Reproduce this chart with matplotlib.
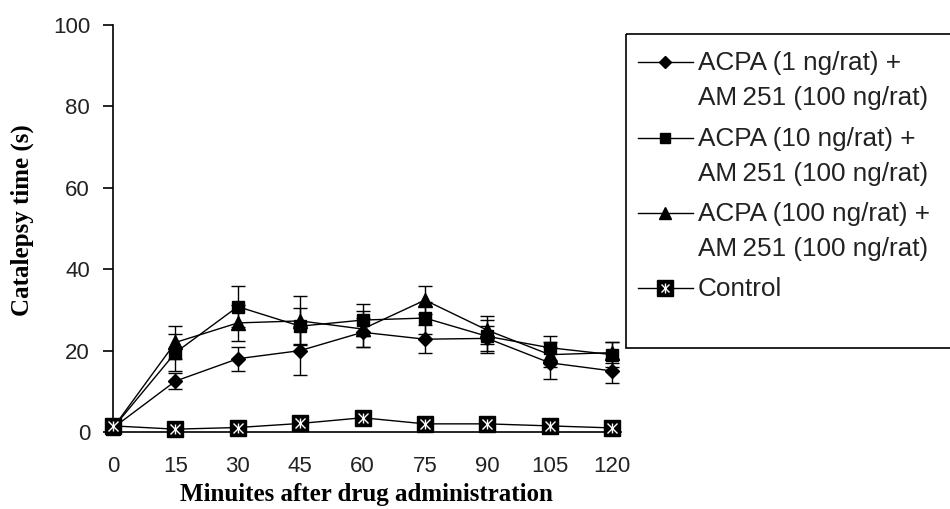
import matplotlib
matplotlib.use("Agg")
import matplotlib.pyplot as plt
from matplotlib.patches import Rectangle

# Time points (minutes after drug administration)
minutes = [0, 15, 30, 45, 60, 75, 90, 105, 120]

# Catalepsy time (s), mean and error per group
acpa1 = [1, 12.5, 18, 20, 24.5, 22.8, 23, 17, 15]
acpa1_err = [0, 2, 3, 6, 3.5, 3.5, 3, 4, 3]
acpa10 = [1, 19.5, 30.8, 26, 27.5, 28, 23.5, 20.7, 19]
acpa10_err = [0, 4.5, 5, 4.5, 4, 4, 4, 3, 3]
acpa100 = [1, 22, 26.8, 27.3, 25.3, 32.4, 25, 19, 19.5]
acpa100_err = [0, 4, 4.5, 6, 4.5, 3.5, 3.5, 3, 2.5]
control = [1.5, 0.7, 1.1, 2.1, 3.5, 2, 2, 1.5, 1]

labels = [
    "ACPA (1 ng/rat) +\nAM\u2009251 (100 ng/rat)",
    "ACPA (10 ng/rat) +\nAM\u2009251 (100 ng/rat)",
    "ACPA (100 ng/rat) +\nAM\u2009251 (100 ng/rat)",
    "Control",
]
yticks = [0, 20, 40, 60, 80, 100]

SANS = ["Liberation Sans", "DejaVu Sans"]
SERIF = ["Liberation Serif", "DejaVu Serif"]

W, H = 950, 509
fig = plt.figure(figsize=(W / 100, H / 100), dpi=100)

left, right, bottom, top = 113, 620.5, 432, 25
ax = fig.add_axes([left / W, 1 - bottom / H, (right - left) / W, (bottom - top) / H])

series = [
    (acpa1, acpa1_err, "D", 7.0),
    (acpa10, acpa10_err, "s", 9.0),
    (acpa100, acpa100_err, "^", 9.5),
]
for vals, errs, mk, ms in series:
    ax.errorbar(minutes, vals, yerr=errs, fmt="-" + mk, color="black", ms=ms,
                lw=1.0, elinewidth=1.0, capsize=5, capthick=1.0, clip_on=False,
                zorder=3)

# Control: black squares with a white asterisk
ax.plot(minutes, control, "-s", color="black", ms=12, lw=1.0, clip_on=False, zorder=4)
ax.plot(minutes, control, linestyle="none", marker="x", color="white", ms=6.5,
        mew=1.0, clip_on=False, zorder=5)
ax.plot(minutes, control, linestyle="none", marker="|", color="white", ms=7.5,
        mew=1.0, clip_on=False, zorder=5)

ax.set_xlim(0, 122)
ax.set_ylim(0, 100)
ax.set_xticks(minutes)
ax.set_yticks(yticks)
for s in ("top", "right"):
    ax.spines[s].set_visible(False)
for s in ("left", "bottom"):
    ax.spines[s].set_linewidth(1.2)
ax.tick_params(axis="x", length=0, pad=17)
ax.tick_params(axis="y", length=7.5, width=1.2, pad=9, direction="out")
for lab in ax.get_xticklabels() + ax.get_yticklabels():
    lab.set_family(SANS)
    lab.set_fontsize(16)
    lab.set_color("#222222")

fig.text(22 / W, 1 - 220 / H, "Catalepsy time (s)", rotation=90, ha="center",
         va="center", family=SERIF, fontweight="bold", fontsize=18)
fig.text(366 / W, 1 - 495 / H, "Minuites after drug administration", ha="center",
         va="center", family=SERIF, fontweight="bold", fontsize=18)

# Legend drawn in pixel coordinates
lax = fig.add_axes([0, 0, 1, 1])
lax.set_xlim(0, W)
lax.set_ylim(H, 0)
lax.axis("off")
lax.add_patch(Rectangle((626, 34), 400, 314, fill=False, edgecolor="black",
                        lw=1.2, clip_on=False))
rows = [62, 138, 213, 288]
leg_markers = [("D", 6.0), ("s", 7.0), ("^", 8.0), ("s", 11)]
for (mk, ms), y, lab in zip(leg_markers, rows, labels):
    lax.plot([638, 693], [y, y], "-", color="black", lw=1.0)
    lax.plot([665], [y], marker=mk, color="black", ms=ms)
    if lab == "Control":
        lax.plot([665], [y], marker="x", color="white", ms=6, mew=1.0)
        lax.plot([665], [y], marker="|", color="white", ms=7, mew=1.0)
    for i, line in enumerate(lab.split("\n")):
        lax.text(698, y + 1 + 35 * i, line, ha="left", va="center", family=SANS,
                 fontsize=18.8, color="#222222")

fig.savefig("out.png", dpi=100)
